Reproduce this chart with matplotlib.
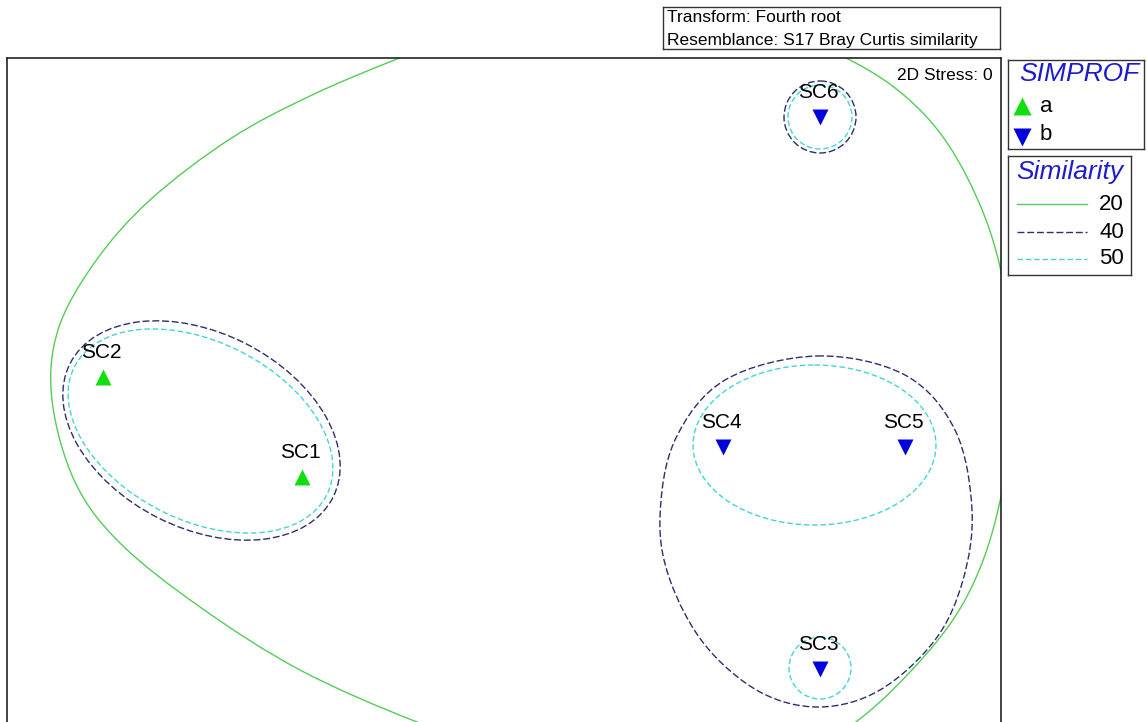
import numpy as np
import matplotlib.pyplot as plt
from matplotlib.path import Path
from matplotlib.patches import PathPatch, Ellipse, Circle

plt.rcParams['font.family'] = ['Liberation Sans', 'DejaVu Sans']

# nMDS configuration (plot units, y grows downwards)
samples = ['SC1', 'SC2', 'SC3', 'SC4', 'SC5', 'SC6']
nmds_x = [302, 103, 820, 723, 905, 820]
nmds_y = [477, 377, 669, 447, 447, 117]
simprof = ['a', 'a', 'b', 'b', 'b', 'b']

# similarity contours
sim_levels = [20, 40, 50]
# 20 %: one hull round every sample (outline points, partly off the plot)
hull20_x = [397, 500, 615, 735, 850, 920, 967, 1000, 1014, 998, 965, 910,
            840, 745, 630, 520, 417, 300, 200, 120, 75, 52, 58, 95, 150, 230, 310]
hull20_y = [59, 20, 2, 15, 60, 110, 177, 267, 388, 510, 600, 672,
            733, 778, 780, 756, 722, 670, 607, 543, 482, 400, 330, 262, 200, 139, 96]
# 40 %: SC3+SC4+SC5 hull
hull40_x = [817, 905, 955, 972, 963, 935, 880, 820, 760, 705, 670, 660, 675, 725]
hull40_y = [356, 375, 430, 510, 580, 640, 690, 707, 692, 645, 580, 517, 440, 380]
# ellipses: centre x, centre y, width, height, angle
ell40 = [(201.5, 430.5, 295, 195, 27)]          # SC1+SC2
ell50 = [(200.5, 431, 283, 178, 27),            # SC1+SC2
         (814.5, 445, 243, 160, 0)]             # SC4+SC5
circ40 = [(820, 117, 36)]                       # SC6
circ50 = [(820, 117, 32), (820, 668, 31)]       # SC6, SC3

green_pt = '#11dd11'
blue_pt = '#0000dd'
col20 = '#55cc55'
col40 = '#2e2e6e'
col50 = '#44d4d4'
title_blue = '#1c1ccc'
dash40 = (0, (5, 2))
dash50 = (0, (4, 2))

W, H = 1147, 722
fig = plt.figure(figsize=(W / 100, H / 100), dpi=100)


def px_axes(x0, y0, x1, y1):
    return fig.add_axes([x0 / W, 1 - y1 / H, (x1 - x0) / W, (y1 - y0) / H])


def smooth_closed(xs, ys):
    # closed Catmull-Rom outline turned into cubic Bezier pieces
    p = np.column_stack([xs, ys]).astype(float)
    n = len(p)
    verts = [p[0]]
    codes = [Path.MOVETO]
    for i in range(n):
        p0, p1, p2, p3 = p[i - 1], p[i], p[(i + 1) % n], p[(i + 2) % n]
        verts += [p1 + (p2 - p0) / 6, p2 - (p3 - p1) / 6, p2]
        codes += [Path.CURVE4] * 3
    return Path(verts, codes)


ax = px_axes(7, 58, 1001, 722)
ax.set_xlim(7, 1001)
ax.set_ylim(722, 58)
ax.set_xticks([])
ax.set_yticks([])
for s in ['top', 'left', 'right']:
    ax.spines[s].set_linewidth(1.2)
    ax.spines[s].set_color('#222222')
ax.spines['bottom'].set_visible(False)

ax.add_patch(PathPatch(smooth_closed(hull20_x, hull20_y), fill=False,
                       ec=col20, lw=1.0))
ax.add_patch(PathPatch(smooth_closed(hull40_x, hull40_y), fill=False,
                       ec=col40, lw=1.0, ls=dash40))
for cx, cy, w, h, a in ell40:
    ax.add_patch(Ellipse((cx, cy), w, h, angle=a, fill=False, ec=col40, lw=1.0, ls=dash40))
for cx, cy, w, h, a in ell50:
    ax.add_patch(Ellipse((cx, cy), w, h, angle=a, fill=False, ec=col50, lw=1.0, ls=dash50))
for cx, cy, r in circ40:
    ax.add_patch(Circle((cx, cy), r, fill=False, ec=col40, lw=1.0, ls=dash40))
for cx, cy, r in circ50:
    ax.add_patch(Circle((cx, cy), r, fill=False, ec=col50, lw=1.0, ls=dash50))

for name, x, y, g in zip(samples, nmds_x, nmds_y, simprof):
    if g == 'a':
        ax.plot(x, y, '^', color=green_pt, ms=12, mec='none')
    else:
        ax.plot(x, y, 'v', color=blue_pt, ms=12, mec='none')
    ax.text(x - 2, y - 24, name, ha='center', va='center', fontsize=15, color='black')

ax.text(993, 75, '2D Stress: 0', ha='right', va='center', fontsize=12.5)

# top info box
info = px_axes(663, 7, 1000, 49)
info.set_xlim(0, 337)
info.set_ylim(42, 0)
info.set_xticks([])
info.set_yticks([])
info.text(4, 11, 'Transform: Fourth root', ha='left', va='center', fontsize=12.5)
info.text(4, 34, 'Resemblance: S17 Bray Curtis similarity', ha='left', va='center', fontsize=12.5)

# SIMPROF legend
leg1 = px_axes(1008, 60, 1144, 149)
leg1.set_xlim(1008, 1144)
leg1.set_ylim(149, 60)
leg1.set_xticks([])
leg1.set_yticks([])
leg1.text(1079, 74, 'SIMPROF', ha='center', va='center', fontsize=19,
          style='italic', color=title_blue)
leg1.plot(1022, 106, '^', color=green_pt, ms=13, mec='none')
leg1.plot(1022, 137, 'v', color=blue_pt, ms=13, mec='none')
leg1.text(1040, 107, 'a', ha='left', va='center', fontsize=16)
leg1.text(1040, 134, 'b', ha='left', va='center', fontsize=16)

# Similarity legend
leg2 = px_axes(1008, 156, 1131, 275)
leg2.set_xlim(1008, 1131)
leg2.set_ylim(275, 156)
leg2.set_xticks([])
leg2.set_yticks([])
leg2.text(1070, 172, 'Similarity', ha='center', va='center', fontsize=19,
          style='italic', color=title_blue)
for lev, yy, c, ls in zip(sim_levels, [204, 232, 259],
                          [col20, col40, col50], ['-', dash40, dash50]):
    leg2.plot([1017, 1087], [yy, yy], color=c, lw=1.0, ls=ls)
    leg2.text(1124, yy, str(lev), ha='right', va='center', fontsize=16)

for a in (info, leg1, leg2):
    for s in a.spines.values():
        s.set_linewidth(1.0)
        s.set_color('#333333')

fig.savefig('out.png', dpi=100)
